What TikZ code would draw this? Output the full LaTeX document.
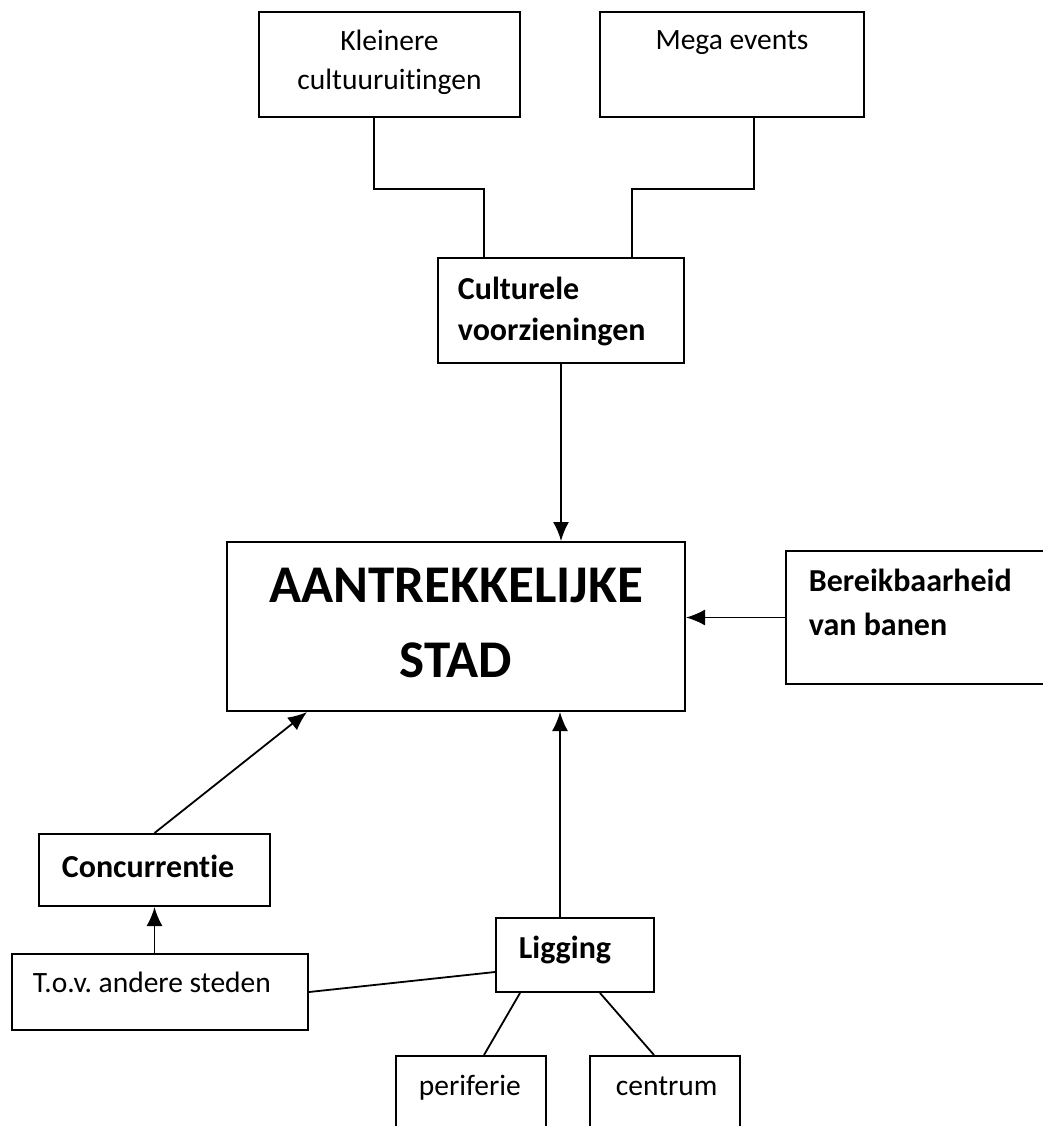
\documentclass[tikz,border=0pt]{standalone}
\usepackage{fontspec}
\setmainfont{Carlito}[Ligatures=NoCommon]
\usetikzlibrary{arrows.meta}

\begin{document}
\frenchspacing
\begin{tikzpicture}[x=1pt,y=-1pt,>={Latex[length=19pt,width=16pt]},line width=1.8pt]
  \tikzset{box/.style={draw,rectangle,inner sep=0pt,line width=2pt},
           txt/.style={inner sep=0pt,font=\fontsize{29.5}{39}\selectfont},
           btxt/.style={inner sep=0pt,font=\fontsize{32}{43}\selectfont\bfseries}}
  \useasboundingbox (0,0) rectangle (1043,1126);
  \clip (0,0) rectangle (1043,1126);

  % boxes
  \node[box,minimum width=261pt,minimum height=105pt] (kleinere) at (389.5,64.5) {};
  \node[box,minimum width=264pt,minimum height=105pt] (mega) at (732,64.5) {};
  \node[box,minimum width=246pt,minimum height=105pt] (cult) at (561,310.5) {};
  \node[box,minimum width=458pt,minimum height=169pt] (stad) at (456,626.5) {};
  \node[box,minimum width=274pt,minimum height=133pt] (bereik) at (923,617.5) {};
  \node[box,minimum width=231pt,minimum height=72pt] (conc) at (154.5,870) {};
  \node[box,minimum width=296pt,minimum height=76pt] (tov) at (160,992) {};
  \node[box,minimum width=158pt,minimum height=74pt] (ligging) at (575,955) {};
  \node[box,minimum width=150pt,minimum height=84pt] (perif) at (471,1098) {};
  \node[box,minimum width=150pt,minimum height=84pt] (centrum) at (665,1098) {};

  % texts (base = last line)
  \node[txt,align=center,anchor=base] (kleineret) at (389.5,90) {Kleinere\\cultuuruitingen};
  \node[txt,anchor=base] (megat) at (732,50) {Mega events};
  \node[inner sep=0pt,font=\fontsize{32}{41}\selectfont\bfseries,align=left,anchor=base west] (cultt) at (457,340) {Culturele\\voorzieningen};
  \node[inner sep=0pt,font=\fontsize{53}{75}\selectfont\bfseries,align=center,anchor=base] (stadt) at (456,677) {AANTREKKELIJKE\\STAD};
  \node[inner sep=0pt,font=\fontsize{32}{44}\selectfont\bfseries,align=left,anchor=base west] (bereikt) at (808,635) {Bereikbaarheid\\van banen};
  \node[btxt,anchor=base west] (conct) at (61,877) {Concurrentie};
  \node[txt,anchor=base west] (tovt) at (32,992) {T.o.v. andere steden};
  \node[btxt,anchor=base west] (liggingt) at (518,958) {Ligging};
  \node[txt,anchor=base west] (perift) at (418,1095) {periferie};
  \node[txt,anchor=base west] (centrumt) at (615,1095) {centrum};

  % connectors
  \draw ([xshift=-15.5pt]kleinere.south) -- ++(0,71) -| ([xshift=-77pt]cult.north);
  \draw ([xshift=22pt]mega.south) -- ++(0,71) -| ([xshift=71pt]cult.north);
  \path[->]
    (cult.south) edge (cult.south |- stad.north)
    (bereik.west) edge (bereik.west -| stad.east)
    (conc.north) edge ([xshift=-149pt]stad.south)
    (conc.south |- tov.north) edge (conc.south)
    ([xshift=-15pt]ligging.north) edge ([xshift=-15pt]ligging.north |- stad.south);
  \draw (tov.east) -- ([yshift=-17pt]ligging.west);
  \draw ([xshift=-55pt]ligging.south) -- ([xshift=13pt]perif.north);
  \draw ([xshift=25pt]ligging.south) -- ([xshift=-11pt]centrum.north);
\end{tikzpicture}
\end{document}
